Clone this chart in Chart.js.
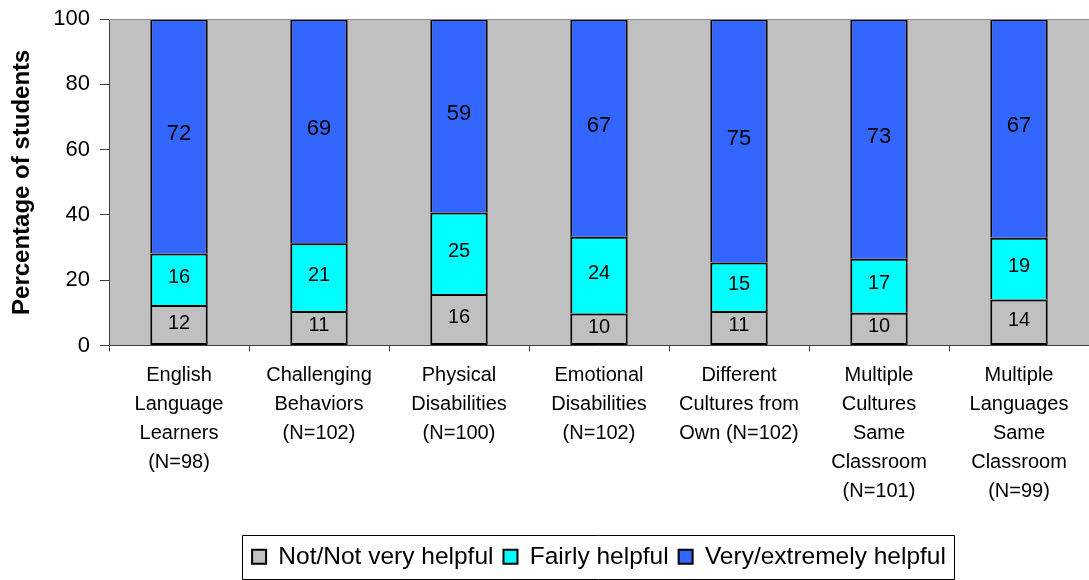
<!DOCTYPE html>
<html>
<head>
<meta charset="utf-8">
<script src="https://cdn.jsdelivr.net/npm/chart.js@4.4.1/dist/chart.umd.min.js"></script>
<style>
  html, body { margin: 0; padding: 0; background: #ffffff; }
  #wrap { width: 1089px; height: 580px; position: relative; }
</style>
</head>
<body>
<div id="wrap"><canvas id="chart" width="1089" height="580"></canvas></div>
<script>
// ---- Data ----
const categories = [
  ['English', 'Language', 'Learners', '(N=98)'],
  ['Challenging', 'Behaviors', '(N=102)'],
  ['Physical', 'Disabilities', '(N=100)'],
  ['Emotional', 'Disabilities', '(N=102)'],
  ['Different', 'Cultures from', 'Own (N=102)'],
  ['Multiple', 'Cultures', 'Same', 'Classroom', '(N=101)'],
  ['Multiple', 'Languages', 'Same', 'Classroom', '(N=99)']
];
const seriesNames = ['Not/Not very helpful', 'Fairly helpful', 'Very/extremely helpful'];
const notHelpful    = [12.4, 10.6, 15.8,  9.8, 10.6, 10.0, 14.1];
const fairlyHelpful = [15.8, 20.7, 24.9, 23.5, 14.8, 16.6, 18.9];
const veryHelpful   = [71.8, 68.7, 59.3, 66.7, 74.6, 73.4, 67.0];
const yAxisMin = 0;
const yAxisMax = 100;
const yAxisStep = 20;
const yAxisTitle = 'Percentage of students';

const FONT = "'Liberation Sans', Arial, Helvetica, sans-serif";

// Plot-area background + top frame line + legend frame
const plotFrame = {
  id: 'plotFrame',
  beforeDraw(chart) {
    const { ctx, chartArea: a } = chart;
    ctx.save();
    ctx.fillStyle = '#c0c0c0';
    ctx.fillRect(a.left, a.top, a.right - a.left, a.bottom - a.top);
    ctx.restore();
  },
  afterDraw(chart) {
    const { ctx, chartArea: a } = chart;
    ctx.save();
    ctx.strokeStyle = '#8c8c8c';
    ctx.lineWidth = 1;
    ctx.beginPath();
    ctx.moveTo(a.left, Math.round(a.top) + 0.5);
    ctx.lineTo(a.right, Math.round(a.top) + 0.5);
    ctx.stroke();
    const lg = chart.legend;
    const hb = lg.legendHitBoxes;
    if (hb && hb.length) {
      const first = hb[0], last = hb[hb.length - 1];
      const left = Math.round(first.left - 10);
      const right = Math.round(last.left + last.width + 8);
      ctx.strokeStyle = '#000000';
      ctx.beginPath();
      ctx.rect(left + 0.5, Math.round(lg.top) + 0.5, right - left, Math.round(lg.bottom - lg.top) - 1);
      ctx.stroke();
    }
    ctx.restore();
  }
};

// Value labels centred in each stacked segment
const valueLabels = {
  id: 'valueLabels',
  afterDatasetsDraw(chart, args, opts) {
    const { ctx, chartArea: a } = chart;
    chart.data.datasets.forEach((ds, di) => {
      const meta = chart.getDatasetMeta(di);
      const size = (opts.sizes && opts.sizes[di]) || 20;
      meta.data.forEach((bar, i) => {
        const v = ds.data[i];
        const top = Math.max(Math.min(bar.y, bar.base), a.top);
        const bottom = Math.min(Math.max(bar.y, bar.base), a.bottom);
        const cy = (top + bottom) / 2 - 2;
        ctx.save();
        ctx.font = size + 'px ' + FONT;
        ctx.fillStyle = '#000000';
        ctx.textAlign = 'center';
        ctx.textBaseline = 'middle';
        ctx.fillText(String(Math.round(v)), bar.x, cy);
        ctx.restore();
      });
    });
  }
};

const barCommon = {
  borderColor: '#000000',
  borderWidth: 2,
  barPercentage: 0.41,
  categoryPercentage: 1.0
};

new Chart(document.getElementById('chart'), {
  type: 'bar',
  data: {
    labels: categories,
    datasets: [
      Object.assign({ label: seriesNames[0], data: notHelpful, backgroundColor: '#c0c0c0', borderSkipped: false }, barCommon),
      Object.assign({ label: seriesNames[1], data: fairlyHelpful, backgroundColor: '#00ffff' }, barCommon),
      Object.assign({ label: seriesNames[2], data: veryHelpful, backgroundColor: '#3366ff' }, barCommon)
    ]
  },
  options: {
    responsive: false,
    devicePixelRatio: 1,
    animation: false,
    layout: { padding: { top: 19, right: 0, bottom: 1, left: 0 } },
    scales: {
      x: {
        stacked: true,
        grid: { display: true, offset: true, drawOnChartArea: false, drawTicks: true, tickLength: 6, color: '#404040' },
        border: { display: true, color: '#404040', width: 1 },
        ticks: {
          autoSkip: false, maxRotation: 0, minRotation: 0,
          color: '#000000',
          padding: 9,
          font: { family: FONT, size: 20, lineHeight: '29px' }
        },
        afterFit(scale) { scale.height = 189; }
      },
      y: {
        stacked: true,
        min: yAxisMin, max: yAxisMax,
        grid: { display: true, drawOnChartArea: false, drawTicks: true, tickLength: 9, color: '#404040' },
        border: { display: true, color: '#404040', width: 1 },
        ticks: {
          stepSize: yAxisStep,
          color: '#000000',
          padding: 10,
          font: { family: FONT, size: 22, lineHeight: 0.8 }
        },
        title: {
          display: true,
          text: yAxisTitle,
          color: '#000000',
          font: { family: FONT, size: 24, weight: 'bold' },
          padding: { top: 8, bottom: 0 }
        },
        afterFit(scale) { scale.width = 109; }
      }
    },
    plugins: {
      legend: {
        position: 'bottom',
        fullSize: false,
        labels: {
          boxWidth: 14, boxHeight: 14,
          padding: 10,
          color: '#000000',
          font: { family: FONT, size: 24.5 }
        }
      },
      tooltip: { enabled: false },
      valueLabels: { sizes: [20, 20, 22] }
    }
  },
  plugins: [plotFrame, valueLabels]
});
</script>
</body>
</html>
